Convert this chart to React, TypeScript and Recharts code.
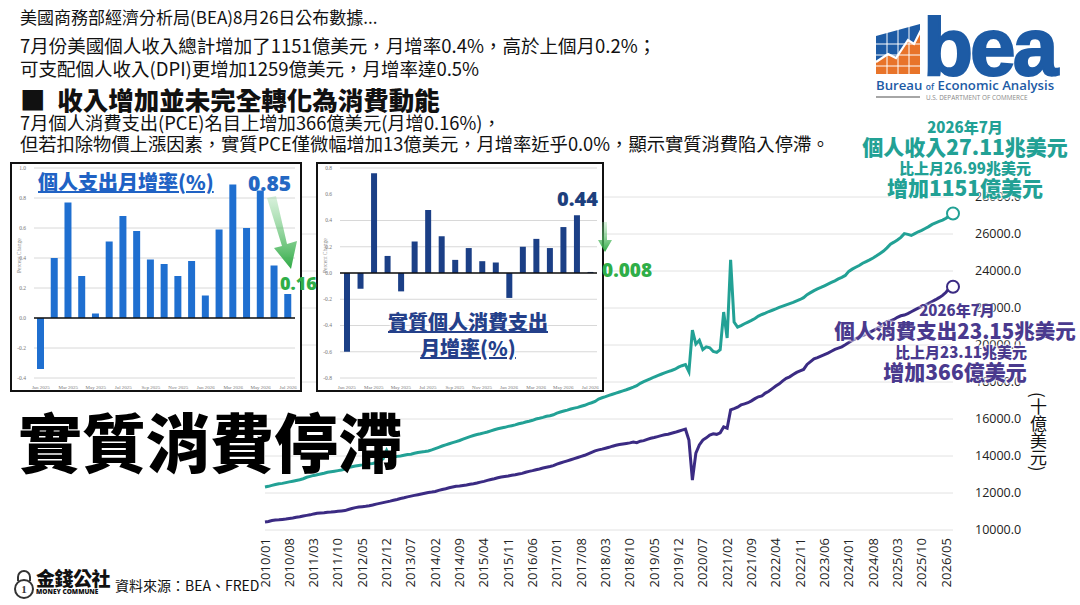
import { LineChart, Line, XAxis, YAxis, CartesianGrid, BarChart, Bar, ReferenceLine } from 'recharts'

const CJK = '"Noto Sans CJK TC", "Noto Sans CJK SC", sans-serif'
const TEAL = '#22a195'
const PURPLE = '#3b2b83'

// monthly labels 2010/01 .. 2026/07
const months: string[] = []
for (let y = 2010; y <= 2026; y++) {
  for (let m = 1; m <= 12; m++) {
    if (y === 2026 && m > 7) break
    months.push(`${y}/${String(m).padStart(2, '0')}`)
  }
}

// personal income, billions of dollars
const incomeValues = [
  12320, 12360, 12410, 12460, 12500, 12520, 12560, 12600, 12640, 12680, 12720, 12770,
  12850, 12900, 12950, 12990, 13030, 13070, 13120, 13150, 13180, 13210, 13240, 13290,
  13380, 13420, 13460, 13490, 13520, 13560, 13580, 13600, 13650, 13720, 13850, 14300,
  13900, 13930, 13980, 14000, 14040, 14080, 14100, 14150, 14190, 14220, 14240, 14270,
  14330, 14400, 14470, 14540, 14600, 14660, 14720, 14780, 14840, 14910, 14980, 15050,
  15110, 15160, 15200, 15250, 15300, 15360, 15420, 15470, 15510, 15550, 15600, 15640,
  15680, 15740, 15780, 15840, 15880, 15930, 16000, 16040, 16090, 16150, 16180, 16230,
  16320, 16380, 16430, 16480, 16540, 16590, 16630, 16690, 16740, 16820, 16880, 16950,
  17080, 17150, 17210, 17280, 17340, 17400, 17460, 17520, 17580, 17650, 17720, 17800,
  17930, 18020, 18100, 18180, 18270, 18350, 18420, 18490, 18560, 18620, 18690, 18800,
  18880, 18940, 18560, 20800, 20050, 20250, 19750, 19900, 19850, 19650, 19600, 19750,
  21780, 20380, 24600, 21240, 20970, 21050, 21150, 21240, 21330, 21430, 21560, 21650,
  21720, 21810, 21880, 21950, 22030, 22100, 22170, 22240, 22300, 22380, 22460, 22560,
  22720, 22830, 22940, 23030, 23110, 23200, 23290, 23380, 23470, 23570, 23660, 23760,
  23980, 24100, 24200, 24300, 24420, 24510, 24600, 24700, 24820, 24950, 25080, 25250,
  25450, 25560, 25680, 25820, 26020, 25980, 25920, 26020, 26120, 26200, 26300, 26400,
  26520, 26600, 26680, 26750, 26850, 26990, 27110,
]

// personal consumption expenditures, billions of dollars
const pceValues = [
  10430, 10460, 10510, 10540, 10550, 10570, 10590, 10620, 10650, 10690, 10720, 10760,
  10790, 10820, 10870, 10900, 10920, 10930, 10960, 10970, 10990, 11010, 11030, 11050,
  11110, 11160, 11210, 11240, 11260, 11280, 11310, 11350, 11400, 11440, 11480, 11520,
  11560, 11610, 11650, 11700, 11740, 11790, 11830, 11870, 11910, 11950, 11990, 12030,
  12050, 12080, 12140, 12190, 12230, 12280, 12320, 12360, 12380, 12410, 12430, 12470,
  12500, 12540, 12590, 12630, 12680, 12730, 12770, 12820, 12860, 12890, 12920, 12960,
  12990, 13030, 13060, 13120, 13170, 13210, 13260, 13300, 13350, 13390, 13430, 13480,
  13560, 13620, 13680, 13740, 13800, 13860, 13920, 13980, 14040, 14120, 14200, 14280,
  14330, 14370, 14420, 14470, 14530, 14580, 14620, 14650, 14680, 14710, 14760, 14720,
  14800, 14830, 14900, 14960, 15000, 15050, 15100, 15150, 15180, 15230, 15280, 15340,
  15400, 15450, 14860, 12700, 14160, 14600, 14860, 14980, 15130, 15200, 15170, 15250,
  15570, 15500, 16490, 16560, 16640, 16760, 16820, 16880, 16980, 17100, 17200, 17250,
  17400, 17500, 17640, 17780, 17900, 18060, 18200, 18280, 18400, 18520, 18600, 18680,
  18950, 19100, 19250, 19320, 19400, 19480, 19560, 19660, 19760, 19830, 19900, 20010,
  20130, 20250, 20340, 20450, 20510, 20590, 20680, 20780, 20880, 20990, 21120, 21260,
  21300, 21380, 21500, 21580, 21620, 21700, 21800, 21900, 21990, 22080, 22160, 22250,
  22350, 22450, 22560, 22680, 22850, 23110, 23150,
]

const yTicks = [10000, 12000, 14000, 16000, 18000, 20000, 22000, 24000, 26000, 28000]

// inset charts: monthly % change, Jan 2025 .. Jul 2026
const insetMonths = [
  'Jan 2025', 'Feb 2025', 'Mar 2025', 'Apr 2025', 'May 2025', 'Jun 2025', 'Jul 2025',
  'Aug 2025', 'Sep 2025', 'Oct 2025', 'Nov 2025', 'Dec 2025', 'Jan 2026', 'Feb 2026',
  'Mar 2026', 'Apr 2026', 'May 2026', 'Jun 2026', 'Jul 2026',
]
const spendingChange = [-0.34, 0.4, 0.77, 0.28, 0.03, 0.51, 0.68, 0.58, 0.39, 0.36, 0.28, 0.38, 0.15, 0.59, 0.89, 0.6, 0.85, 0.35, 0.16]
const realPceChange = [-0.6, -0.12, 0.76, 0.13, -0.14, 0.24, 0.48, 0.28, 0.1, 0.19, 0.09, 0.08, -0.19, 0.2, 0.26, 0.19, 0.35, 0.44, 0.008]

const lineData = months.map((month, i) => ({ month, income: incomeValues[i], pce: pceValues[i] }))
const spendingData = insetMonths.map((month, i) => ({ month, value: spendingChange[i] }))
const realData = insetMonths.map((month, i) => ({ month, value: realPceChange[i] }))

const lastIndex = months.length - 1

function endDot(color: string) {
  return (props: any) => {
    if (props.index !== lastIndex) return <g key={props.index} />
    return <circle key={props.index} cx={props.cx} cy={props.cy} r={6} fill="#fff" stroke={color} strokeWidth={2} />
  }
}

function MonthTick({ x, y, payload }: any) {
  return (
    <text
      x={x}
      y={y}
      transform={`rotate(-90 ${x} ${y})`}
      dy={4.5}
      textAnchor="end"
      fontSize={13}
      fontFamily="'Open Sans', sans-serif"
      fill="#222"
    >
      {payload.value}
    </text>
  )
}

function InsetBars({ data, color, domain, ticks, left, width, barSize }: any) {
  return (
    <div
      style={{
        position: 'absolute', left, top: 162, width, height: 230, boxSizing: 'border-box',
        border: '2px solid #111', background: '#fff',
      }}
    >
      <BarChart width={width - 4} height={226} data={data} margin={{ top: 4, right: 5, bottom: 2, left: 3 }}>
        <CartesianGrid vertical={false} stroke="#d8d8d8" />
        <XAxis
          dataKey="month"
          interval={1}
          tickLine={false}
          axisLine={false}
          height={10}
          tick={{ fontSize: 5, fill: '#777' }}
          tickMargin={1}
        />
        <YAxis
          domain={domain}
          ticks={ticks}
          width={19}
          tickLine={false}
          axisLine={false}
          tick={{ fontSize: 5.5, fill: '#777' }}
          tickFormatter={(v: number) => v.toFixed(1)}
          label={{ value: 'Percent Change', angle: -90, position: 'insideLeft', offset: 4, fontSize: 5.5, fill: '#888' }}
        />
        <ReferenceLine y={0} stroke="#111" strokeWidth={1.5} />
        <Bar dataKey="value" fill={color} barSize={barSize} isAnimationActive={false} />
      </BarChart>
    </div>
  )
}

const txt = (extra: any) => ({ position: 'absolute', fontFamily: CJK, whiteSpace: 'nowrap', lineHeight: 1, ...extra })
const halo = '0 0 3px #fff, 0 0 3px #fff, 0 0 2px #fff'

export default function App() {
  return (
    <div style={{ position: 'absolute', left: 0, top: 0, width: 1080, height: 605, overflow: 'hidden', background: '#fff' }}>
      {/* main line chart */}
      <div style={{ position: 'absolute', left: 250, top: 185 }}>
        <LineChart width={800} height={420} data={lineData} margin={{ top: 12, right: 17, bottom: 5, left: 15 }}>
          <CartesianGrid vertical={false} stroke="#e2e2e2" />
          <XAxis dataKey="month" interval={6} tick={<MonthTick />} tickLine={false} axisLine={false} height={70} />
          <YAxis
            orientation="right"
            domain={[10000, 28000]}
            ticks={yTicks}
            width={80}
            tickLine={false}
            axisLine={false}
            tickMargin={16}
            tick={{ fontSize: 12.5, fill: '#222', fontFamily: "'Open Sans', sans-serif" }}
            tickFormatter={(v: number) => v.toFixed(1)}
          />
          <Line type="linear" dataKey="income" stroke={TEAL} strokeWidth={3} dot={endDot(TEAL)} isAnimationActive={false} />
          <Line type="linear" dataKey="pce" stroke={PURPLE} strokeWidth={3} dot={endDot(PURPLE)} isAnimationActive={false} />
        </LineChart>
      </div>

      {/* inset bar charts */}
      <InsetBars data={spendingData} color="#1f6fd0" domain={[-0.4, 1.0]} ticks={[-0.4, -0.2, 0, 0.2, 0.4, 0.6, 0.8, 1.0]} left={10} width={292} barSize={7} />
      <InsetBars data={realData} color="#1b3f86" domain={[-0.8, 0.8]} ticks={[-0.8, -0.6, -0.4, -0.2, 0, 0.2, 0.4, 0.6, 0.8]} left={316} width={288} barSize={6} />

      {/* green arrows */}
      <svg width={1080} height={605} style={{ position: 'absolute', left: 0, top: 0, pointerEvents: 'none' }}>
        <defs>
          <linearGradient id="ga" x1="0" y1="0" x2="0" y2="1">
            <stop offset="0" stopColor="#7fd08a" stopOpacity={0.3} />
            <stop offset="1" stopColor="#2faa45" />
          </linearGradient>
        </defs>
        <polygon points="267,198 276,196 287,244 297,241 291,269 274,248 282,246" fill="url(#ga)" />
        <polygon points="602,222 607,222 607,240 612,240 605,252 598,240 602,240" fill="url(#ga)" />
      </svg>

      {/* header text */}
      <div style={txt({ left: 20, top: 8, fontSize: 17, color: '#111' })}>美國商務部經濟分析局(BEA)8月26日公布數據...</div>
      <div style={txt({ left: 20, top: 36, fontSize: 18.5, color: '#111' })}>7月份美國個人收入總計增加了1151億美元，月增率0.4%，高於上個月0.2%；</div>
      <div style={txt({ left: 20, top: 59, fontSize: 18.5, color: '#111' })}>可支配個人收入(DPI)更增加1259億美元，月增率達0.5%</div>
      <div style={txt({ left: 20, top: 86, fontSize: 25.5, fontWeight: 900, color: '#111' })}>■&nbsp;&nbsp;收入增加並未完全轉化為消費動能</div>
      <div style={txt({ left: 20, top: 113, fontSize: 18.3, color: '#111' })}>7月個人消費支出(PCE)名目上增加366億美元(月增0.16%)，</div>
      <div style={txt({ left: 20, top: 134, fontSize: 18.3, color: '#111' })}>但若扣除物價上漲因素，實質PCE僅微幅增加13億美元，月增率近乎0.0%，顯示實質消費陷入停滯。</div>

      {/* BEA logo */}
      <svg width={208} height={105} style={{ position: 'absolute', left: 870, top: 0 }}>
        <polygon points="6,36 50,24 50,74 6,74" fill="#1d5ba5" />
        <polygon points="6,62 18,54 26,58 38,40 44,44 50,32 50,74 6,74" fill="#e8742a" />
        <polyline points="6,62 18,54 26,58 38,40 44,44 52,28" fill="none" stroke="#fff" strokeWidth={2.2} />
        {[17, 28, 39].map((x) => <line key={x} x1={x} y1={18} x2={x} y2={74} stroke="#fff" strokeWidth={1} />)}
        {[44, 55, 66].map((y) => <line key={y} x1={6} y1={y} x2={50} y2={y} stroke="#fff" strokeWidth={1} />)}
        <text x={53} y={75} fontFamily="'Liberation Sans', Arial, sans-serif" fontWeight={700} fontSize={82} letterSpacing={-3} fill="#1d5ba5" stroke="#1d5ba5" strokeWidth={2}>bea</text>
        <text x={6} y={90} fontFamily="'Open Sans', sans-serif" fontWeight={600} fontSize={13.2} fill="#1d5ba5">
          Bureau <tspan fontSize={8.5}>of</tspan> Economic Analysis
        </text>
        <line x1={6} y1={97} x2={50} y2={97} stroke="#888" strokeWidth={1.4} />
        <text x={56} y={99.5} fontFamily="'Open Sans', sans-serif" fontSize={6.4} fill="#888">U.S. DEPARTMENT OF COMMERCE</text>
      </svg>

      {/* inset overlays */}
      <div style={txt({ left: 38, top: 172, fontSize: 20, fontWeight: 900, color: '#2062c4', textDecoration: 'underline', textShadow: halo })}>個人支出月增率(%)</div>
      <div style={txt({ left: 248, top: 173, fontSize: 21, fontWeight: 900, color: '#2468c3', fontFamily: "'Open Sans', sans-serif" })}>0.85</div>
      <div style={txt({ left: 280, top: 274, fontSize: 18, fontWeight: 900, color: '#2fae48', fontFamily: "'Open Sans', sans-serif" })}>0.16</div>
      <div style={txt({ left: 557, top: 189, fontSize: 20, fontWeight: 900, color: '#1d3f7d', fontFamily: "'Open Sans', sans-serif" })}>0.44</div>
      <div style={txt({ left: 602, top: 261, fontSize: 19, fontWeight: 900, color: '#2fae48', fontFamily: "'Open Sans', sans-serif" })}>0.008</div>
      <div style={txt({ left: 388, top: 312, width: 160, textAlign: 'center', fontSize: 20, fontWeight: 900, color: '#24408a', textShadow: halo })}>
        <span style={{ textDecoration: 'underline' }}>實質個人消費支出</span>
        <div style={{ height: 6 }} />
        <span style={{ textDecoration: 'underline' }}>月增率(%)</span>
      </div>

      {/* series annotations */}
      <div style={txt({ left: 860, top: 119, width: 210, textAlign: 'center', color: TEAL, fontWeight: 900, textShadow: halo })}>
        <div style={{ fontSize: 15 }}>2026年7月</div>
        <div style={{ fontSize: 21, marginTop: 2 }}>個人收入27.11兆美元</div>
        <div style={{ fontSize: 15, marginTop: 3 }}>比上月26.99兆美元</div>
        <div style={{ fontSize: 21, marginTop: 2 }}>增加1151億美元</div>
      </div>
      <div style={txt({ left: 832, top: 302, width: 246, textAlign: 'center', color: '#4a3a8e', fontWeight: 900, textShadow: halo })}>
        <div style={{ fontSize: 15, paddingLeft: 4 }}>2026年7月</div>
        <div style={{ fontSize: 20.5, marginTop: 3 }}>個人消費支出23.15兆美元</div>
        <div style={{ fontSize: 15, marginTop: 3, paddingLeft: 12 }}>比上月23.11兆美元</div>
        <div style={{ fontSize: 21, marginTop: 2 }}>增加366億美元</div>
      </div>
      <div style={txt({ left: 1030, top: 392, fontSize: 17, color: '#111', writingMode: 'vertical-rl' })}>(十億美元)</div>

      {/* big title */}
      <div style={txt({ left: 18, top: 407, fontSize: 64, fontWeight: 900, color: '#000' })}>實質消費停滯</div>

      {/* footer */}
      <svg width={24} height={32} style={{ position: 'absolute', left: 12, top: 568 }}>
        <path d="M6,13 V9 a6,6 0 0 1 12,0 V13" fill="none" stroke="#333" strokeWidth={2} />
        <circle cx={12} cy={21} r={9} fill="#fff" stroke="#333" strokeWidth={2} />
        <text x={12} y={25} textAnchor="middle" fontSize={11} fontWeight={700} fill="#333">1</text>
      </svg>
      <div style={txt({ left: 36, top: 568, fontSize: 19, fontWeight: 900, color: '#111', letterSpacing: -0.5 })}>金錢公社</div>
      <div style={txt({ left: 36, top: 589, fontSize: 6.5, fontWeight: 900, color: '#111', fontFamily: "'Open Sans', sans-serif" })}>MONEY COMMUNE</div>
      <div style={txt({ left: 115, top: 578, fontSize: 14, color: '#111' })}>資料來源：BEA、FRED</div>
    </div>
  )
}
